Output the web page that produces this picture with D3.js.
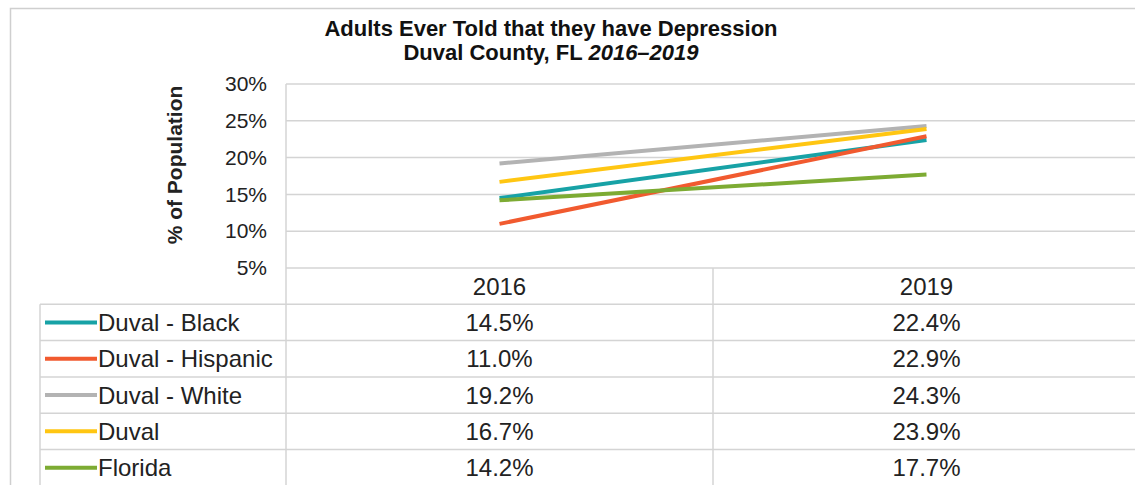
<!DOCTYPE html>
<html lang="en">
<head>
<meta charset="UTF-8">
<title>Adults Ever Told that they have Depression</title>
<script src="https://d3js.org/d3.v7.min.js"></script>
<style>
  body { margin: 0; background: #fff; }
  svg { font-family: "Liberation Sans", Arial, sans-serif; }
</style>
</head>
<body>
<div class="canvas"></div>
<script>
  // data
  const years = ['2016', '2019'];
  const seriesNames = ['Duval - Black', 'Duval - Hispanic', 'Duval - White', 'Duval', 'Florida'];
  const black = [14.5, 22.4];
  const hispanic = [11.0, 22.9];
  const white = [19.2, 24.3];
  const duval = [16.7, 23.9];
  const florida = [14.2, 17.7];
  const yTicks = [5, 10, 15, 20, 25, 30];
  const colors = ['#17a2a6', '#f15a2f', '#b3b3b3', '#ffc612', '#7dab33'];

  const seriesValues = [black, hispanic, white, duval, florida];
  const series = seriesNames.map((name, i) => ({ name, values: seriesValues[i], color: colors[i] }));

  const width = 1135, height = 485;
  const plotLeft = 286, plotRight = 1140, plotTop = 84, plotBottom = 268;
  const tableLeft = 40, rowH = 36.3;

  const svg = d3.select('.canvas').append('svg')
    .attr('width', width).attr('height', height);

  // outer border
  svg.append('rect')
    .attr('x', 10.5).attr('y', 8.5)
    .attr('width', width + 20).attr('height', height + 20)
    .attr('fill', 'none').attr('stroke', '#cfcfcf').attr('stroke-width', 1.5);

  const x = d3.scaleBand().domain(years).range([plotLeft, plotRight]).padding(0);
  const cx = d => x(d) + x.bandwidth() / 2;
  const y = d3.scaleLinear().domain([5, 30]).range([plotBottom, plotTop]);

  // gridlines
  svg.append('g').selectAll('line').data(yTicks).enter().append('line')
    .attr('x1', plotLeft).attr('x2', width)
    .attr('y1', d => y(d)).attr('y2', d => y(d))
    .attr('stroke', '#d4d4d4').attr('stroke-width', 1.5);

  // y axis labels
  const yAxis = d3.axisLeft(y).tickValues(yTicks).tickFormat(d => d + '%').tickSize(0).tickPadding(19);
  const yAxisG = svg.append('g').attr('transform', `translate(${plotLeft}, 0)`).call(yAxis);
  yAxisG.select('.domain').remove();
  yAxisG.selectAll('text')
    .attr('font-family', '"Liberation Sans", Arial, sans-serif')
    .attr('font-size', 21).attr('fill', '#222');

  svg.append('text')
    .attr('transform', `translate(182, 165) rotate(-90)`)
    .attr('text-anchor', 'middle')
    .attr('font-size', 21).attr('font-weight', 'bold').attr('fill', '#222')
    .text('% of Population');

  // title
  svg.append('text')
    .attr('x', 551).attr('y', 36)
    .attr('text-anchor', 'middle')
    .attr('font-size', 22).attr('font-weight', 'bold').attr('fill', '#111')
    .text('Adults Ever Told that they have Depression');
  const t2 = svg.append('text')
    .attr('x', 551).attr('y', 60)
    .attr('text-anchor', 'middle')
    .attr('font-size', 22).attr('font-weight', 'bold').attr('fill', '#111');
  t2.append('tspan').text('Duval County, FL ');
  t2.append('tspan').attr('font-style', 'italic').text('2016\u20132019');

  // table rows
  const rowY = i => plotBottom + rowH * (i + 1);
  const table = svg.append('g');
  seriesNames.forEach((s, i) => {
    table.append('line')
      .attr('x1', tableLeft).attr('x2', width)
      .attr('y1', rowY(i)).attr('y2', rowY(i))
      .attr('stroke', '#d4d4d4').attr('stroke-width', 1.5);
  });
  table.append('line')
    .attr('x1', tableLeft).attr('x2', tableLeft)
    .attr('y1', rowY(0)).attr('y2', height)
    .attr('stroke', '#d4d4d4').attr('stroke-width', 1.5);
  table.append('line')
    .attr('x1', plotLeft).attr('x2', plotLeft)
    .attr('y1', plotTop).attr('y2', height)
    .attr('stroke', '#d4d4d4').attr('stroke-width', 1.5);
  table.append('line')
    .attr('x1', x('2019')).attr('x2', x('2019'))
    .attr('y1', plotBottom).attr('y2', height)
    .attr('stroke', '#d4d4d4').attr('stroke-width', 1.5);

  // header years
  table.selectAll('.yr').data(years).enter().append('text')
    .attr('class', 'yr')
    .attr('x', d => cx(d)).attr('y', plotBottom + rowH / 2 + 8.5)
    .attr('text-anchor', 'middle')
    .attr('font-size', 24).attr('fill', '#222')
    .text(d => d);

  // value cells and legend
  series.forEach((s, i) => {
    const mid = rowY(i) + rowH / 2;
    table.append('line')
      .attr('x1', 45).attr('x2', 97)
      .attr('y1', mid).attr('y2', mid)
      .attr('stroke', s.color).attr('stroke-width', 4);
    table.append('text')
      .attr('x', 98).attr('y', mid + 8.5)
      .attr('font-size', 24).attr('fill', '#222')
      .text(s.name);
    years.forEach((yr, j) => {
      table.append('text')
        .attr('x', cx(yr)).attr('y', mid + 8.5)
        .attr('text-anchor', 'middle')
        .attr('font-size', 24).attr('fill', '#222')
        .text(s.values[j].toFixed(1) + '%');
    });
  });

  // lines
  const line = d3.line()
    .x((d, j) => cx(years[j]))
    .y(d => y(d));
  svg.append('g').selectAll('path').data(series).enter().append('path')
    .attr('fill', 'none')
    .attr('stroke', d => d.color)
    .attr('stroke-width', 4)
    .attr('d', d => line(d.values));
</script>
</body>
</html>
